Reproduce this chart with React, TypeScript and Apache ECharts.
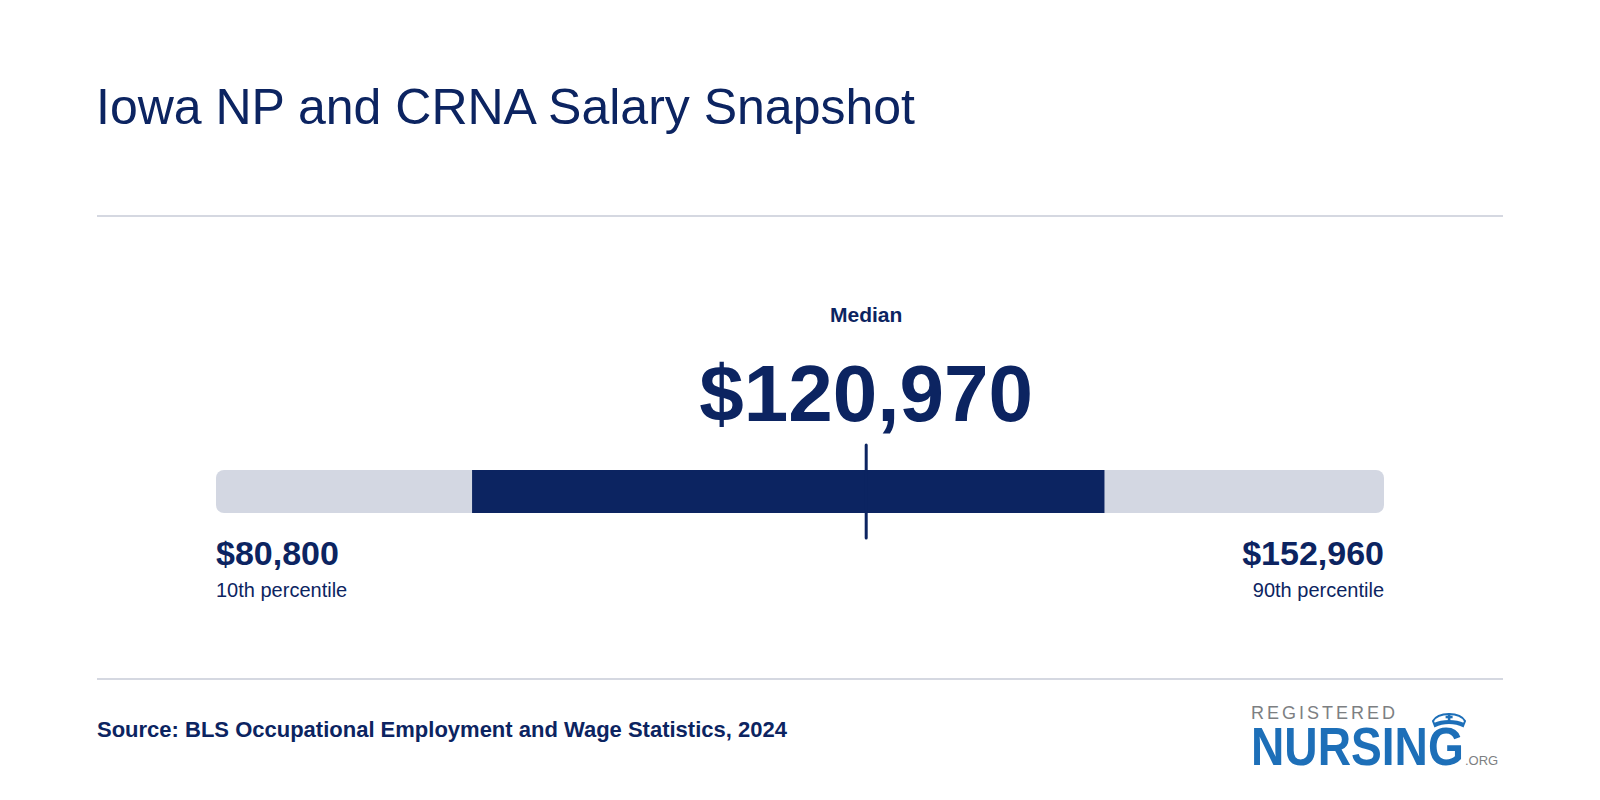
import React, { useEffect, useRef } from "react";
import * as echarts from "echarts";

// ---- data ----
const TITLE = "Iowa NP and CRNA Salary Snapshot";
const SOURCE = "Source: BLS Occupational Employment and Wage Statistics, 2024";
const percentileKeys = ["p10", "p25", "median", "p75", "p90"];
const percentileValues = [80800, 96620, 120970, 135690, 152960];
const edgeLabels = ["10th percentile", "90th percentile"];
const medianLabel = "Median";
const axisMin = 80800;
const axisMax = 152960;

const NAVY = "#0c2461";
const LIGHT = "#d3d7e2";
const RULE = "#d5d8e1";
const BLUE = "#1d6fb8";
const GREY = "#7d7f82";
const FONT = "'Liberation Sans', Arial, Helvetica, sans-serif";

const fmt = (v: number) => "$" + v.toLocaleString("en-US");

let registered = false;
function registerShapes() {
  if (registered) return;
  registered = true;
  echarts.graphic.registerShape(
    "capOutline",
    echarts.graphic.extendPath("M3 10 C8 0.5, 30 0.5, 35 10 L33 15 C25 11, 13 11, 5 15 Z", {})
  );
  echarts.graphic.registerShape(
    "capBand",
    echarts.graphic.extendPath("M5 15 C13 11, 25 11, 33 15 L34.2 12 C26 8, 12 8, 3.8 12 Z", {})
  );
}

const letterW: Record<string, number> = { R: 0.722, E: 0.667, G: 0.778, I: 0.278, S: 0.667, T: 0.611, D: 0.722 };

function App() {
  const ref = useRef<HTMLDivElement>(null);
  useEffect(() => {
    if (!ref.current) return;
    registerShapes();
    const chart = echarts.init(ref.current, null, { renderer: "svg" });

    // REGISTERED letters spread
    const word = "REGISTERED";
    const fs = 18;
    const startX = 1251;
    const endX = 1395;
    const widths = word.split("").map((c) => (letterW[c] || 0.667) * fs);
    const total = widths.reduce((a, b) => a + b, 0);
    const gap = (endX - startX - total) / (word.length - 1);
    let cx = startX;
    const regLetters: any[] = word.split("").map((c, i) => {
      const el = {
        type: "text",
        x: cx,
        y: 713,
        style: { text: c, fill: GREY, font: `400 ${fs}px ${FONT}`, textAlign: "left", textVerticalAlign: "middle" },
      };
      cx += widths[i] + gap;
      return el;
    });

    const option: any = {
      animation: false,
      backgroundColor: "#ffffff",
      grid: { left: 216, right: 216, top: 470, height: 43 },
      xAxis: { type: "value", min: axisMin, max: axisMax, show: false },
      yAxis: { type: "value", min: 0, max: 1, show: false },
      graphic: [
        {
          type: "text",
          x: 96,
          y: 106.5,
          style: { text: TITLE, fill: NAVY, font: `400 50px ${FONT}`, textAlign: "left", textVerticalAlign: "middle" },
        },
        { type: "line", shape: { x1: 97, y1: 216, x2: 1503, y2: 216 }, style: { stroke: RULE, lineWidth: 2 } },
        { type: "line", shape: { x1: 97, y1: 679, x2: 1503, y2: 679 }, style: { stroke: RULE, lineWidth: 2 } },
        {
          type: "text",
          x: 97,
          y: 729,
          style: { text: SOURCE, fill: NAVY, font: `700 22px ${FONT}`, textAlign: "left", textVerticalAlign: "middle" },
        },
        ...regLetters,
        {
          type: "text",
          x: 1251,
          y: 747,
          scaleX: 0.855,
          style: { text: "NURSING", fill: BLUE, font: `700 54px ${FONT}`, textAlign: "left", textVerticalAlign: "middle" },
        },
        {
          type: "text",
          x: 1465,
          y: 760.5,
          style: { text: ".ORG", fill: GREY, font: `400 13px ${FONT}`, textAlign: "left", textVerticalAlign: "middle" },
        },
        {
          type: "group",
          x: 1430,
          y: 711,
          children: [
            { type: "capOutline", style: { fill: "#ffffff", stroke: BLUE, lineWidth: 2 } },
            { type: "capBand", style: { fill: BLUE } },
            { type: "rect", shape: { x: 17.8, y: 2.5, width: 2.6, height: 7 }, style: { fill: BLUE } },
            { type: "rect", shape: { x: 15.6, y: 4.7, width: 7, height: 2.6 }, style: { fill: BLUE } },
          ],
        },
      ],
      series: [
        {
          type: "custom",
          clip: false,
          encode: { x: [0, 1, 2, 3, 4], y: 5 },
          data: [[...percentileValues, 0.5]],
          renderItem: (params: any, api: any) => {
            const v = percentileKeys.map((_, i) => api.value(i));
            const [x10, yBot] = api.coord([v[0], 0]);
            const yTop = api.coord([v[0], 1])[1];
            const x25 = api.coord([v[1], 0])[0];
            const xm = api.coord([v[2], 0])[0];
            const x75 = api.coord([v[3], 0])[0];
            const x90 = api.coord([v[4], 0])[0];
            const txt = (text: string, x: number, y: number, font: string, align: string) => ({
              type: "text",
              x,
              y,
              style: { text, fill: NAVY, font, textAlign: align, textVerticalAlign: "middle" },
            });
            return {
              type: "group",
              children: [
                {
                  type: "rect",
                  shape: { x: x10, y: yTop, width: x90 - x10, height: yBot - yTop, r: 8 },
                  style: { fill: LIGHT },
                },
                {
                  type: "rect",
                  shape: { x: x25, y: yTop, width: x75 - x25, height: yBot - yTop },
                  style: { fill: NAVY },
                },
                {
                  type: "line",
                  shape: { x1: xm, y1: yTop - 25, x2: xm, y2: yBot + 25 },
                  style: { stroke: NAVY, lineWidth: 3, lineCap: "round" },
                },
                txt(medianLabel, xm, yTop - 156, `700 21px ${FONT}`, "center"),
                txt(fmt(v[2]), xm, yTop - 77, `700 80px ${FONT}`, "center"),
                txt(fmt(v[0]), x10, yBot + 40, `700 34px ${FONT}`, "left"),
                txt(edgeLabels[0], x10, yBot + 77, `400 20px ${FONT}`, "left"),
                txt(fmt(v[4]), x90, yBot + 40, `700 34px ${FONT}`, "right"),
                txt(edgeLabels[1], x90, yBot + 77, `400 20px ${FONT}`, "right"),
              ],
            };
          },
        },
      ],
    };
    chart.setOption(option);
    return () => chart.dispose();
  }, []);
  return (
    <div
      ref={ref}
      style={{ position: "absolute", left: 0, top: 0, width: 1600, height: 800, background: "#ffffff" }}
    />
  );
}

export default App;
